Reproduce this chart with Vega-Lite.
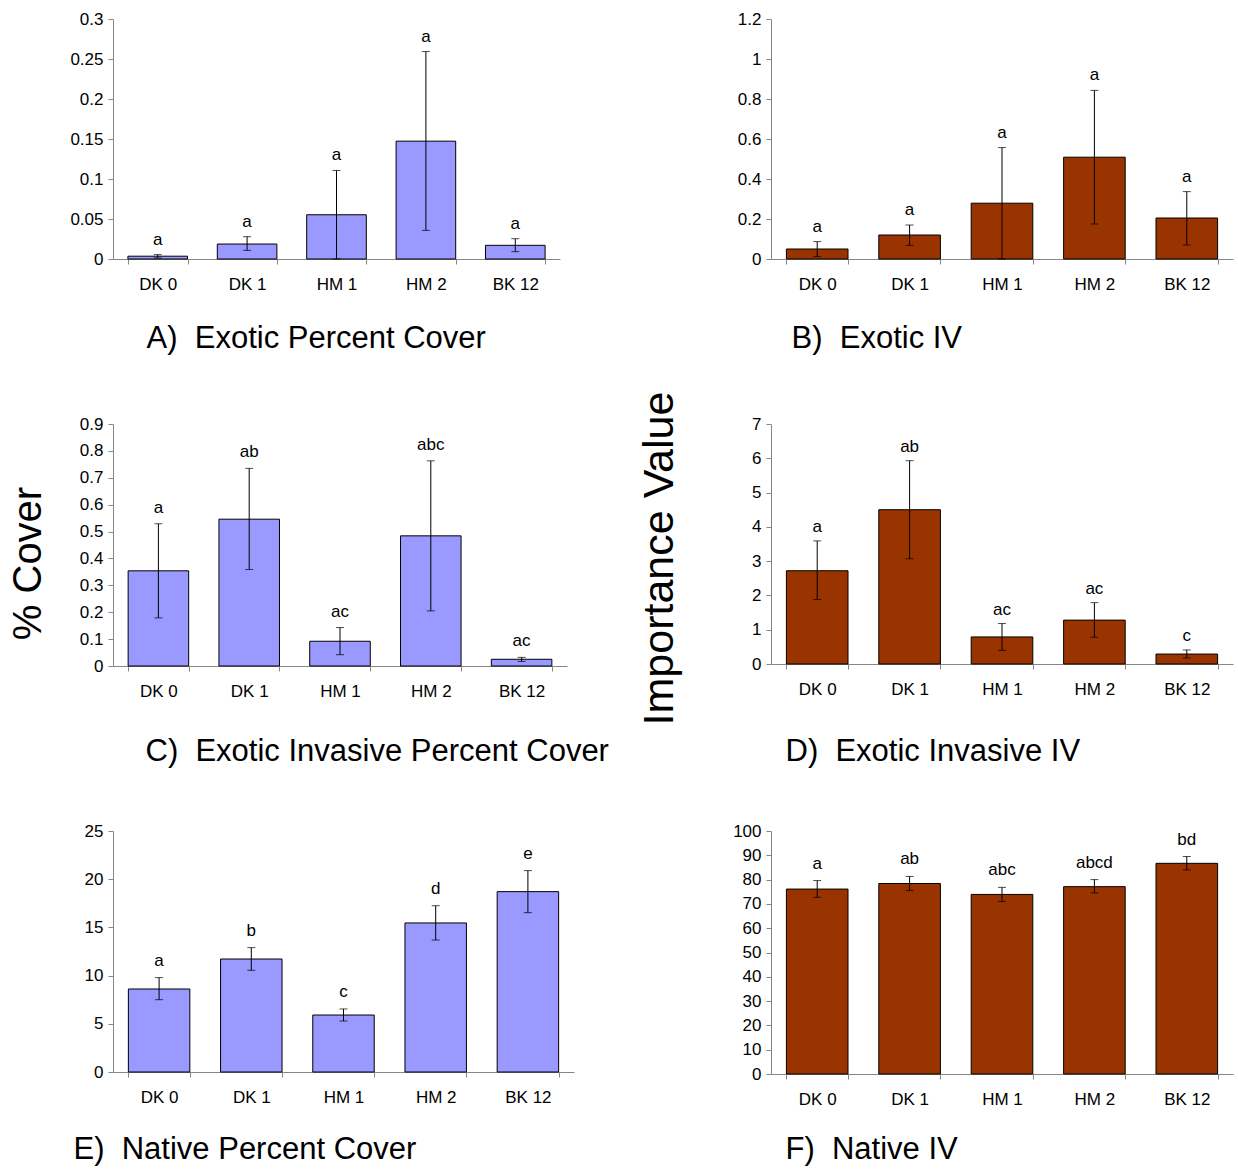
{
  "$schema": "https://vega.github.io/schema/vega-lite/v6.json",
  "background": "white",
  "autosize": {"type": "pad"},
  "padding": {"left": 7, "top": 10, "right": 6, "bottom": 4},
  "config": {
    "font": "Liberation Sans",
    "view": {"stroke": null},
    "axis": {
      "domainColor": "#868686", "tickColor": "#868686", "tickSize": 5, "domainWidth": 1, "tickWidth": 1,
      "labelFont": "Liberation Sans", "labelFontSize": 17, "labelColor": "black", "grid": false, "labelOverlap": false,
      "titleFont": "Liberation Sans", "titleFontWeight": "normal", "titleColor": "black"
    },
    "axisX": {"labelAngle": 0, "labelPadding": 12, "tickBand": "extent", "titleFontSize": 31, "titleAlign": "left", "titleBaseline": "alphabetic"},
    "axisY": {"labelPadding": 5, "titleAngle": -90, "titleAlign": "center", "titleBaseline": "alphabetic", "format": "~r"}
  },
  "datasets": {
    "A": [
      {"site": "DK 0", "mean": 0.0035, "lo": 0.0013, "hi": 0.0055, "letter": "a"},
      {"site": "DK 1", "mean": 0.0187, "lo": 0.0108, "hi": 0.0279, "letter": "a"},
      {"site": "HM 1", "mean": 0.0553, "lo": 0.0, "hi": 0.1107, "letter": "a"},
      {"site": "HM 2", "mean": 0.1473, "lo": 0.0358, "hi": 0.2593, "letter": "a"},
      {"site": "BK 12", "mean": 0.0171, "lo": 0.0092, "hi": 0.0254, "letter": "a"}
    ],
    "B": [
      {"site": "DK 0", "mean": 0.05, "lo": 0.012, "hi": 0.087, "letter": "a"},
      {"site": "DK 1", "mean": 0.12, "lo": 0.068, "hi": 0.17, "letter": "a"},
      {"site": "HM 1", "mean": 0.279, "lo": 0.0, "hi": 0.557, "letter": "a"},
      {"site": "HM 2", "mean": 0.509, "lo": 0.175, "hi": 0.843, "letter": "a"},
      {"site": "BK 12", "mean": 0.205, "lo": 0.07, "hi": 0.337, "letter": "a"}
    ],
    "C": [
      {"site": "DK 0", "mean": 0.354, "lo": 0.179, "hi": 0.529, "letter": "a"},
      {"site": "DK 1", "mean": 0.546, "lo": 0.359, "hi": 0.735, "letter": "ab"},
      {"site": "HM 1", "mean": 0.092, "lo": 0.042, "hi": 0.143, "letter": "ac"},
      {"site": "HM 2", "mean": 0.484, "lo": 0.205, "hi": 0.763, "letter": "abc"},
      {"site": "BK 12", "mean": 0.025, "lo": 0.017, "hi": 0.032, "letter": "ac"}
    ],
    "D": [
      {"site": "DK 0", "mean": 2.72, "lo": 1.88, "hi": 3.59, "letter": "a"},
      {"site": "DK 1", "mean": 4.5, "lo": 3.07, "hi": 5.93, "letter": "ab"},
      {"site": "HM 1", "mean": 0.79, "lo": 0.4, "hi": 1.18, "letter": "ac"},
      {"site": "HM 2", "mean": 1.28, "lo": 0.78, "hi": 1.79, "letter": "ac"},
      {"site": "BK 12", "mean": 0.29, "lo": 0.175, "hi": 0.41, "letter": "c"}
    ],
    "E": [
      {"site": "DK 0", "mean": 8.61, "lo": 7.5, "hi": 9.79, "letter": "a"},
      {"site": "DK 1", "mean": 11.72, "lo": 10.55, "hi": 12.9, "letter": "b"},
      {"site": "HM 1", "mean": 5.91, "lo": 5.29, "hi": 6.54, "letter": "c"},
      {"site": "HM 2", "mean": 15.46, "lo": 13.69, "hi": 17.25, "letter": "d"},
      {"site": "BK 12", "mean": 18.71, "lo": 16.53, "hi": 20.89, "letter": "e"}
    ],
    "F": [
      {"site": "DK 0", "mean": 76.1, "lo": 72.7, "hi": 79.6, "letter": "a"},
      {"site": "DK 1", "mean": 78.4, "lo": 75.5, "hi": 81.3, "letter": "ab"},
      {"site": "HM 1", "mean": 73.9, "lo": 71.0, "hi": 76.8, "letter": "abc"},
      {"site": "HM 2", "mean": 77.1, "lo": 74.5, "hi": 80.0, "letter": "abcd"},
      {"site": "BK 12", "mean": 86.7, "lo": 84.0, "hi": 89.5, "letter": "bd"}
    ]
  },
  "columns": 2,
  "align": "each",
  "bounds": "flush",
  "spacing": {"row": 165, "column": 197},
  "concat": [
    {
      "width": 447, "height": 240,
      "data": {"name": "A"},
      "encoding": {"x": {"field": "site", "type": "nominal", "sort": null, "scale": {"paddingInner": 0.3333, "paddingOuter": 0.1667},
        "axis": {"title": "A)\u00a0 Exotic Percent Cover", "titleX": 33, "titleY": 88}}},
      "layer": [
        {"mark": {"type": "bar", "fill": "#9999ff", "stroke": "black", "strokeWidth": 1},
         "encoding": {"y": {"field": "mean", "type": "quantitative", "title": null, "scale": {"domain": [0, 0.3], "nice": false},
           "axis": {"values": [0, 0.05, 0.1, 0.15, 0.2, 0.25, 0.3]}}}},
        {"mark": {"type": "errorbar", "color": "black", "ticks": {"size": 8, "thickness": 1, "color": "black"}, "rule": {"strokeWidth": 1}},
         "encoding": {"y": {"field": "hi", "type": "quantitative", "title": null, "axis": {"values": [0, 0.05, 0.1, 0.15, 0.2, 0.25, 0.3]}}, "y2": {"field": "lo"}}},
        {"mark": {"type": "text", "fontSize": 17, "baseline": "alphabetic", "dy": -10, "color": "black"},
         "encoding": {"y": {"field": "hi", "type": "quantitative", "title": null, "axis": {"values": [0, 0.05, 0.1, 0.15, 0.2, 0.25, 0.3]}}, "text": {"field": "letter"}}}
      ]
    },
    {
      "width": 462, "height": 240,
      "data": {"name": "B"},
      "encoding": {"x": {"field": "site", "type": "nominal", "sort": null, "scale": {"paddingInner": 0.3333, "paddingOuter": 0.1667},
        "axis": {"title": "B)\u00a0 Exotic IV", "titleX": 20, "titleY": 88}}},
      "layer": [
        {"mark": {"type": "bar", "fill": "#993300", "stroke": "black", "strokeWidth": 1},
         "encoding": {"y": {"field": "mean", "type": "quantitative", "title": null, "scale": {"domain": [0, 1.2], "nice": false},
           "axis": {"values": [0, 0.2, 0.4, 0.6, 0.8, 1, 1.2]}}}},
        {"mark": {"type": "errorbar", "color": "black", "ticks": {"size": 8, "thickness": 1, "color": "black"}, "rule": {"strokeWidth": 1}},
         "encoding": {"y": {"field": "hi", "type": "quantitative", "title": null, "axis": {"values": [0, 0.2, 0.4, 0.6, 0.8, 1, 1.2]}}, "y2": {"field": "lo"}}},
        {"mark": {"type": "text", "fontSize": 17, "baseline": "alphabetic", "dy": -10, "color": "black"},
         "encoding": {"y": {"field": "hi", "type": "quantitative", "title": null, "axis": {"values": [0, 0.2, 0.4, 0.6, 0.8, 1, 1.2]}}, "text": {"field": "letter"}}}
      ]
    },
    {
      "width": 454, "height": 242,
      "data": {"name": "C"},
      "encoding": {"x": {"field": "site", "type": "nominal", "sort": null, "scale": {"paddingInner": 0.3333, "paddingOuter": 0.1667},
        "axis": {"title": "C)\u00a0 Exotic Invasive Percent Cover", "titleX": 32, "titleY": 94}}},
      "layer": [
        {"mark": {"type": "bar", "fill": "#9999ff", "stroke": "black", "strokeWidth": 1},
         "encoding": {"y": {"field": "mean", "type": "quantitative", "title": "% Cover", "scale": {"domain": [0, 0.9], "nice": false},
           "axis": {"titleX": -73, "titleY": 139, "titleFontSize": 40, "values": [0, 0.1, 0.2, 0.3, 0.4, 0.5, 0.6, 0.7, 0.8, 0.9]}}}},
        {"mark": {"type": "errorbar", "color": "black", "ticks": {"size": 8, "thickness": 1, "color": "black"}, "rule": {"strokeWidth": 1}},
         "encoding": {"y": {"field": "hi", "type": "quantitative", "title": "% Cover",
           "axis": {"titleX": -73, "titleY": 139, "titleFontSize": 40, "values": [0, 0.1, 0.2, 0.3, 0.4, 0.5, 0.6, 0.7, 0.8, 0.9]}}, "y2": {"field": "lo"}}},
        {"mark": {"type": "text", "fontSize": 17, "baseline": "alphabetic", "dy": -11, "color": "black"},
         "encoding": {"y": {"field": "hi", "type": "quantitative", "title": "% Cover",
           "axis": {"titleX": -73, "titleY": 139, "titleFontSize": 40, "values": [0, 0.1, 0.2, 0.3, 0.4, 0.5, 0.6, 0.7, 0.8, 0.9]}}, "text": {"field": "letter"}}}
      ]
    },
    {
      "width": 462, "height": 240,
      "data": {"name": "D"},
      "encoding": {"x": {"field": "site", "type": "nominal", "sort": null, "scale": {"paddingInner": 0.3333, "paddingOuter": 0.1667},
        "axis": {"title": "D)\u00a0 Exotic Invasive IV", "titleX": 14, "titleY": 96}}},
      "layer": [
        {"mark": {"type": "bar", "fill": "#993300", "stroke": "black", "strokeWidth": 1},
         "encoding": {"y": {"field": "mean", "type": "quantitative", "title": "Importance Value", "scale": {"domain": [0, 7], "nice": false},
           "axis": {"titleX": -99, "titleY": 134, "titleFontSize": 43, "values": [0, 1, 2, 3, 4, 5, 6, 7]}}}},
        {"mark": {"type": "errorbar", "color": "black", "ticks": {"size": 8, "thickness": 1, "color": "black"}, "rule": {"strokeWidth": 1}},
         "encoding": {"y": {"field": "hi", "type": "quantitative", "title": "Importance Value",
           "axis": {"titleX": -99, "titleY": 134, "titleFontSize": 43, "values": [0, 1, 2, 3, 4, 5, 6, 7]}}, "y2": {"field": "lo"}}},
        {"mark": {"type": "text", "fontSize": 17, "baseline": "alphabetic", "dy": -9, "color": "black"},
         "encoding": {"y": {"field": "hi", "type": "quantitative", "title": "Importance Value",
           "axis": {"titleX": -99, "titleY": 134, "titleFontSize": 43, "values": [0, 1, 2, 3, 4, 5, 6, 7]}}, "text": {"field": "letter"}}}
      ]
    },
    {
      "width": 461, "height": 241,
      "data": {"name": "E"},
      "encoding": {"x": {"field": "site", "type": "nominal", "sort": null, "scale": {"paddingInner": 0.3333, "paddingOuter": 0.1667},
        "axis": {"title": "E)\u00a0 Native Percent Cover", "titleX": -40, "titleY": 86}}},
      "layer": [
        {"mark": {"type": "bar", "fill": "#9999ff", "stroke": "black", "strokeWidth": 1},
         "encoding": {"y": {"field": "mean", "type": "quantitative", "title": null, "scale": {"domain": [0, 25], "nice": false},
           "axis": {"values": [0, 5, 10, 15, 20, 25]}}}},
        {"mark": {"type": "errorbar", "color": "black", "ticks": {"size": 8, "thickness": 1, "color": "black"}, "rule": {"strokeWidth": 1}},
         "encoding": {"y": {"field": "hi", "type": "quantitative", "title": null, "axis": {"values": [0, 5, 10, 15, 20, 25]}}, "y2": {"field": "lo"}}},
        {"mark": {"type": "text", "fontSize": 17, "baseline": "alphabetic", "dy": -12, "color": "black"},
         "encoding": {"y": {"field": "hi", "type": "quantitative", "title": null, "axis": {"values": [0, 5, 10, 15, 20, 25]}}, "text": {"field": "letter"}}}
      ]
    },
    {
      "width": 462, "height": 243,
      "data": {"name": "F"},
      "encoding": {"x": {"field": "site", "type": "nominal", "sort": null, "scale": {"paddingInner": 0.3333, "paddingOuter": 0.1667},
        "axis": {"title": "F)\u00a0 Native IV", "titleX": 14, "titleY": 84}}},
      "layer": [
        {"mark": {"type": "bar", "fill": "#993300", "stroke": "black", "strokeWidth": 1},
         "encoding": {"y": {"field": "mean", "type": "quantitative", "title": null, "scale": {"domain": [0, 100], "nice": false},
           "axis": {"values": [0, 10, 20, 30, 40, 50, 60, 70, 80, 90, 100]}}}},
        {"mark": {"type": "errorbar", "color": "black", "ticks": {"size": 8, "thickness": 1, "color": "black"}, "rule": {"strokeWidth": 1}},
         "encoding": {"y": {"field": "hi", "type": "quantitative", "title": null, "axis": {"values": [0, 10, 20, 30, 40, 50, 60, 70, 80, 90, 100]}}, "y2": {"field": "lo"}}},
        {"mark": {"type": "text", "fontSize": 17, "baseline": "alphabetic", "dy": -12, "color": "black"},
         "encoding": {"y": {"field": "hi", "type": "quantitative", "title": null, "axis": {"values": [0, 10, 20, 30, 40, 50, 60, 70, 80, 90, 100]}}, "text": {"field": "letter"}}}
      ]
    }
  ]
}
